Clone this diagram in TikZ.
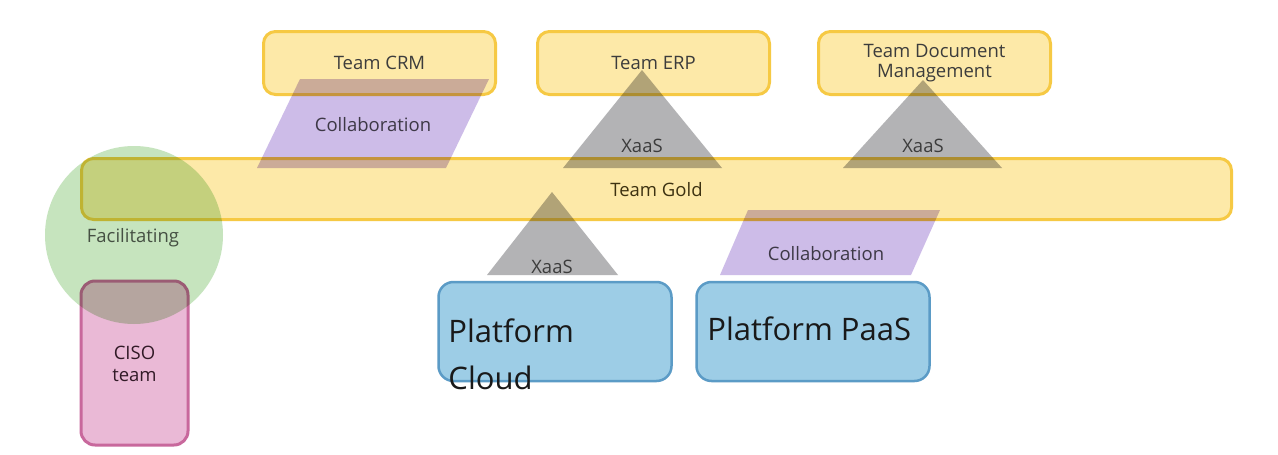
\documentclass[tikz,border=0pt]{standalone}
\usepackage{fontspec}
\setmainfont{Open Sans}
\usetikzlibrary{positioning,calc}

\definecolor{teamfill}{HTML}{FDE9A8}
\definecolor{teamline}{HTML}{F6C944}
\definecolor{xaasfill}{HTML}{B3B3B5}
\definecolor{collabfill}{HTML}{CDBCE8}
\definecolor{facilfill}{HTML}{C6E4BE}
\definecolor{cisofill}{HTML}{EAB9D6}
\definecolor{cisoline}{HTML}{C8689C}
\definecolor{platfill}{HTML}{9DCDE6}
\definecolor{platline}{HTML}{5B9BC6}
\definecolor{labeltext}{HTML}{3C3C3C}

\begin{document}
\begin{tikzpicture}[x=1pt, y=-1pt,
    team/.style={draw=teamline, fill=teamfill, line width=3pt,
      rounded corners=12pt, text=labeltext, align=center,
      font=\fontsize{18.5}{22}\selectfont},
    platform/.style={draw=platline, fill=platfill, line width=2.5pt,
      rounded corners=15pt, minimum width=233pt, minimum height=99pt},
    bigtext/.style={inner sep=0pt, align=left, text=black!90,
      font=\fontsize{31}{47}\selectfont},
    xaas/.style={fill=xaasfill, blend mode=multiply},
    collab/.style={fill=collabfill, blend mode=multiply},
    small/.style={inner sep=0pt, text=labeltext,
      font=\fontsize{18.5}{22}\selectfont}]
  \useasboundingbox[fill=white] (0,0) rectangle (1278,455);

  % stream aligned teams
  \node [team, minimum width=232pt, minimum height=63pt] (crm) at (379.5,63) {Team CRM};
  \node [team, minimum width=232pt, minimum height=63pt] (erp) at (653.5,63) {Team ERP};
  \node [team, minimum width=232pt, minimum height=63pt] (dms) at (934.5,63)
        {Team Document\\[-2pt]Management};
  \node [team, minimum width=1150pt, minimum height=61pt] (gold) at (656.5,189) {};
  \node [small, text=black!75!teamline] (goldtext) at (656.5,190) {Team Gold};

  % platforms
  \node [platform] (cloud) at (555,331.5) {};
  \node [platform] (paas) at (813,331.5) {};
  \node [bigtext, anchor=north west] (cloudtext) at ([shift={(11,38)}]cloud.north west)
        {Platform\\Cloud};
  \node [bigtext, anchor=north west] (paastext) at ([shift={(12,36)}]paas.north west)
        {Platform PaaS};

  % CISO and facilitating
  \node [draw=cisoline, fill=cisofill, line width=3pt, rounded corners=14pt,
         minimum width=107pt, minimum height=164pt] (ciso) at (134.5,363) {};
  \node [small, align=center, text=black!75!cisoline] (cisotext) at (134.5,364)
        {CISO\\team};
  \fill [facilfill, blend mode=multiply] (134,235) circle (89);
  \node [small, text=black!65!facilfill] (facil) at (133,238) {Facilitating};

  % interactions
  \path [collab] (300,79) -- (489,79) -- (446,168) -- (257,168) -- cycle;
  \node [small, text=black!70!collabfill] (crmcollab) at (373,125) {Collaboration};
  \path [collab] (748,210) -- (940,210) -- (911,275) -- (720,275) -- cycle;
  \node [small, text=black!70!collabfill] (paascollab) at (826,254) {Collaboration};

  \path [xaas] (642,70) -- (722,168) -- (563,168) -- cycle;
  \node [small] (erpxaas) at (642,146) {XaaS};
  \path [xaas] (923,80) -- (1002,168) -- (843,168) -- cycle;
  \node [small] (dmsxaas) at (923,146) {XaaS};
  \path [xaas] (552,192) -- (618,275) -- (487,275) -- cycle;
  \node [small] (cloudxaas) at (552,267) {XaaS};
\end{tikzpicture}
\end{document}
